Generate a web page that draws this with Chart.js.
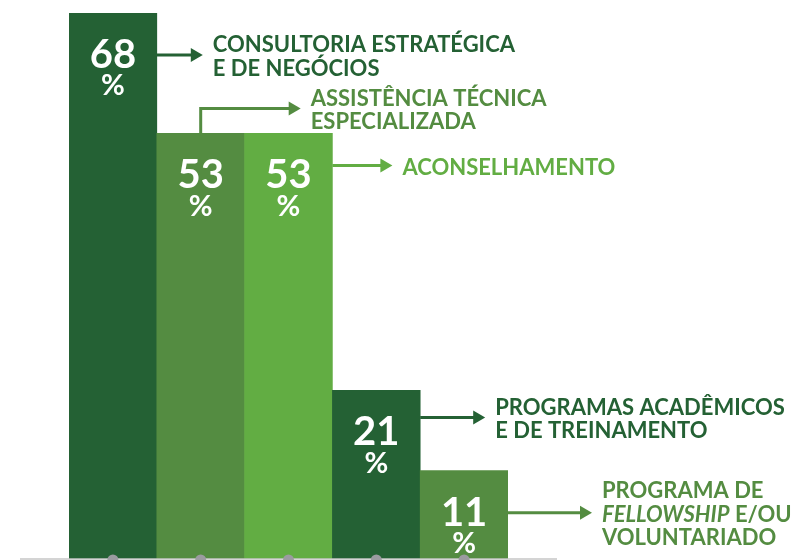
<!DOCTYPE html>
<html>
<head>
<meta charset="utf-8">
<script src="https://cdn.jsdelivr.net/npm/chart.js@4.4.1/dist/chart.umd.min.js"></script>
<style>
  html, body { margin: 0; padding: 0; background: #fff; }
</style>
</head>
<body>
<canvas id="barChart" width="796" height="560"></canvas>
<script>
const categories = [
  'Consultoria estratégica e de negócios',
  'Assistência técnica especializada',
  'Aconselhamento',
  'Programas acadêmicos e de treinamento',
  'Programa de fellowship e/ou voluntariado'
];
const shares = [68, 53, 53, 21, 11];
// label text as printed; *word* = italic
const labelLines = [
  ['CONSULTORIA ESTRATÉGICA', 'E DE NEGÓCIOS'],
  ['ASSISTÊNCIA TÉCNICA', 'ESPECIALIZADA'],
  ['ACONSELHAMENTO'],
  ['PROGRAMAS ACADÊMICOS', 'E DE TREINAMENTO'],
  ['PROGRAMA DE', '*FELLOWSHIP* E/OU', 'VOLUNTARIADO']
];

const barColors = ['#246134', '#548c41', '#62ad43', '#246134', '#548c41'];
const FONT = 'Lato, "Open Sans", sans-serif';

// where each callout sits, relative to its bar top
const callouts = [
  { drop: 42, len: 46 },
  { rise: 25, len: 100 },
  { drop: 32, len: 60 },
  { drop: 27, len: 65 },
  { drop: 42, len: 84 }
];

function arrowHead(ctx, x, y) {
  ctx.beginPath();
  ctx.moveTo(x, y);
  ctx.lineTo(x - 12, y - 7);
  ctx.lineTo(x - 12, y + 7);
  ctx.closePath();
  ctx.fill();
}

function drawRich(ctx, line, x, y) {
  const parts = line.split('*');
  let cx = x;
  parts.forEach((p, k) => {
    if (!p) return;
    ctx.font = (k % 2 ? 'italic ' : '') + 'bold 22px ' + FONT;
    ctx.fillText(p, cx, y);
    cx += ctx.measureText(p).width;
  });
}

const calloutPlugin = {
  id: 'callouts',
  afterDatasetsDraw(chart) {
    const ctx = chart.ctx;
    const area = chart.chartArea;
    const bars = chart.getDatasetMeta(0).data;
    const y0 = chart.scales.y.getPixelForValue(0);
    ctx.save();

    // baseline and the grey dots under the bars
    ctx.strokeStyle = '#c6c6c6';
    ctx.lineWidth = 1.5;
    ctx.beginPath();
    ctx.moveTo(area.left - 49, y0);
    ctx.lineTo(area.right + 49, y0);
    ctx.stroke();
    ctx.fillStyle = '#9b9ba0';
    bars.forEach(bar => {
      ctx.beginPath();
      ctx.arc(bar.x, y0 + 1, 5.5, 0, Math.PI * 2);
      ctx.fill();
    });

    bars.forEach((bar, i) => {
      // value inside bar
      ctx.fillStyle = '#fff';
      ctx.textAlign = 'center';
      ctx.textBaseline = 'middle';
      ctx.font = 'bold 40px ' + FONT;
      ctx.fillText(String(shares[i]), bar.x, bar.y + 42);
      ctx.font = 'bold 29px ' + FONT;
      ctx.fillText('%', bar.x, bar.y + 73);

      // arrow
      const c = callouts[i];
      const col = barColors[i];
      ctx.strokeStyle = col;
      ctx.fillStyle = col;
      ctx.lineWidth = 3;
      let ay, tip;
      ctx.beginPath();
      if (c.rise) {
        ay = bar.y - c.rise;
        ctx.moveTo(bar.x, bar.y);
        ctx.lineTo(bar.x, ay);
        tip = bar.x + c.len;
        ctx.lineTo(tip - 10, ay);
      } else {
        ay = bar.y + c.drop;
        const sx = bar.x + bar.width / 2;
        tip = sx + c.len;
        ctx.moveTo(sx, ay);
        ctx.lineTo(tip - 10, ay);
      }
      ctx.stroke();
      arrowHead(ctx, tip, ay);

      // category text
      const lines = labelLines[i];
      const lh = 23.5;
      ctx.textAlign = 'left';
      let ty = ay + 2 - (lines.length - 1) * lh / 2;
      lines.forEach(line => {
        drawRich(ctx, line, tip + 10, ty);
        ty += lh;
      });
    });
    ctx.restore();
  }
};

new Chart(document.getElementById('barChart'), {
  type: 'bar',
  data: {
    labels: categories,
    datasets: [{
      data: shares,
      backgroundColor: barColors,
      borderWidth: 0,
      barPercentage: 1,
      categoryPercentage: 1
    }]
  },
  options: {
    responsive: false,
    animation: false,
    layout: { padding: { left: 69, right: 288, top: 13, bottom: 1 } },
    scales: {
      x: { display: false },
      y: { display: false, min: 0, max: 68 }
    },
    plugins: {
      legend: { display: false },
      tooltip: { enabled: false }
    }
  },
  plugins: [calloutPlugin]
});
</script>
</body>
</html>
